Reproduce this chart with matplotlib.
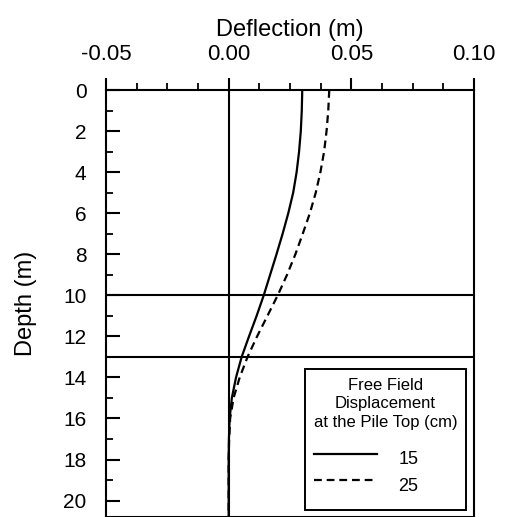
import matplotlib
matplotlib.use("Agg")
import matplotlib.pyplot as plt
from matplotlib.ticker import MultipleLocator

plt.rcParams['font.family'] = ['Liberation Sans', 'DejaVu Sans']

depth = [0, 1, 2, 3, 4, 5, 6, 7, 8, 9, 10, 11, 12, 13, 14, 15, 16, 17, 18, 19, 20, 21]
defl_15 = [0.0300, 0.0298, 0.0294, 0.0287, 0.0277, 0.0263, 0.0243, 0.0220, 0.0195, 0.0169,
           0.0143, 0.0114, 0.0083, 0.0053, 0.0030, 0.0013, 0.0004, 0.0001, 0.0000, 0.0000,
           0.0000, 0.0000]
defl_25 = [0.0410, 0.0406, 0.0399, 0.0389, 0.0374, 0.0355, 0.0331, 0.0302, 0.0272, 0.0238,
           0.0200, 0.0158, 0.0116, 0.0077, 0.0045, 0.0020, 0.0006, 0.0002, 0.0000, 0.0000,
           0.0000, 0.0000]
layer_depths = [10, 13]
x_ticks = [-0.05, 0.00, 0.05, 0.10]
x_ticklabels = ["-0.05", "0.00", "0.05", "0.10"]
y_ticks = [0, 2, 4, 6, 8, 10, 12, 14, 16, 18, 20]
legend_labels = ["15", "25"]
legend_title = "Free Field\nDisplacement\nat the Pile Top (cm)"

fig = plt.figure(figsize=(5.07, 5.17), dpi=100)
ax = fig.add_axes([106/507, 0.0, (474-106)/507, 1 - 90/517])

ax.set_xlim(-0.05, 0.10)
ax.set_ylim(20.8, 0)

ax.axvline(0, color='black', lw=1.5)
for d in layer_depths:
    ax.axhline(d, color='black', lw=1.5)

l1, = ax.plot(defl_15, depth, color='black', lw=1.6)
l2, = ax.plot(defl_25, depth, color='black', lw=1.6, linestyle=(0, (3.5, 2.2)))

ax.xaxis.set_ticks_position('top')
ax.xaxis.set_label_position('top')
ax.set_xticks(x_ticks)
ax.set_xticklabels(x_ticklabels)
ax.xaxis.set_minor_locator(MultipleLocator(0.0125))
ax.tick_params(axis='x', which='major', direction='out', length=9, width=1.5, labelsize=16, pad=9)
ax.tick_params(axis='x', which='minor', direction='out', length=5, width=1.3)

ax.set_yticks(y_ticks)
ax.yaxis.set_minor_locator(MultipleLocator(1))
ax.tick_params(axis='y', which='major', direction='in', length=10, width=1.5, labelsize=15, pad=14)
ax.tick_params(axis='y', which='minor', direction='in', length=5, width=1.3)

ax.set_xlabel("Deflection (m)", fontsize=17, labelpad=6)
ax.set_ylabel("Depth (m)", fontsize=17, labelpad=19)

for s in ax.spines.values():
    s.set_linewidth(1.5)

leg = ax.legend([l1, l2], legend_labels, title=legend_title + "\n",
                loc='lower left', bbox_to_anchor=(0.541, 0.016), borderaxespad=0,
                fontsize=13, title_fontsize=12, handlelength=3.5,
                handleheight=2.35, labelspacing=-0.3, handletextpad=1.2,
                borderpad=0.48, alignment='left',
                fancybox=False, edgecolor='black', framealpha=1)
leg.get_frame().set_linewidth(1.4)
leg.get_title().set_multialignment('center')
leg.get_title().set_linespacing(1.3)

fig.savefig("out.png", dpi=100)
